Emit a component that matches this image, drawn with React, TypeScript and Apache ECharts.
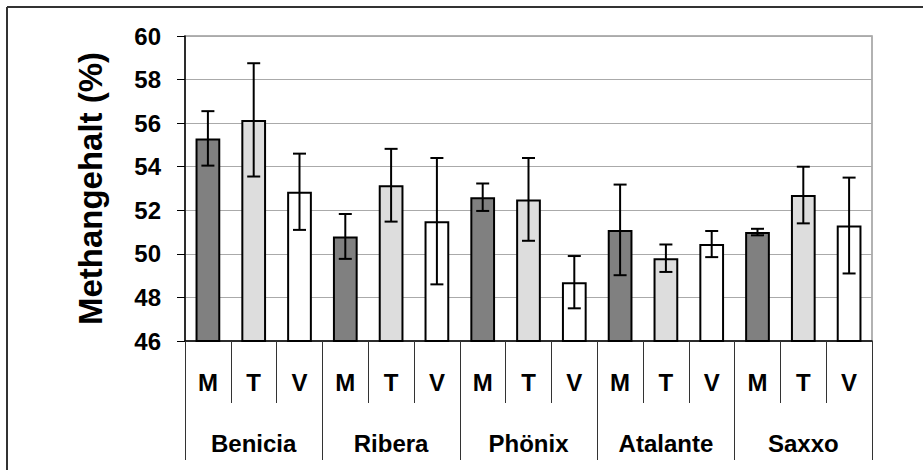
import React, { useEffect, useRef } from "react";
import * as echarts from "echarts";

const groups = ["Benicia", "Ribera", "Phönix", "Atalante", "Saxxo"];
const treatments = ["M", "T", "V"];
const meanM = [55.3, 50.8, 52.6, 51.1, 51.0];
const meanT = [56.15, 53.15, 52.5, 49.8, 52.7];
const meanV = [52.85, 51.5, 48.7, 50.45, 51.3];
const errM = [1.25, 1.03, 0.63, 2.08, 0.15];
const errT = [2.6, 1.67, 1.9, 0.63, 1.3];
const errV = [1.75, 2.9, 1.2, 0.6, 2.2];
const yTicks = { min: 46, max: 60, interval: 2 };
const colors = { M: "#808080", T: "#dddddd", V: "#ffffff" };

const FONT = "'Liberation Sans', Arial, sans-serif";

export default function App() {
  const ref = useRef<HTMLDivElement>(null);
  useEffect(() => {
    if (!ref.current) return;
    const chart = echarts.init(ref.current, null, { renderer: "svg" });
    const means = [meanM, meanT, meanV];
    const errs = [errM, errT, errV];
    const cats: string[] = [];
    const barData: any[] = [];
    const errData: any[] = [];
    groups.forEach((g, gi) => {
      treatments.forEach((t, ti) => {
        const idx = cats.length;
        cats.push(t);
        barData.push({
          value: means[ti][gi],
          itemStyle: { color: (colors as any)[t] },
        });
        errData.push([idx, means[ti][gi], errs[ti][gi]]);
      });
    });

    chart.setOption({
      animation: false,
      grid: {
        left: 185,
        right: 51,
        top: 36,
        bottom: 129,
        show: true,
        borderColor: "#999",
        borderWidth: 1.5,
        backgroundColor: "transparent",
      },
      graphic: [
        {
          type: "line",
          shape: { x1: 7, y1: 7, x2: 923, y2: 7 },
          style: { stroke: "#333", lineWidth: 2 },
        },
        {
          type: "line",
          shape: { x1: 7, y1: 7, x2: 7, y2: 470 },
          style: { stroke: "#333", lineWidth: 2 },
        },
      ],
      xAxis: [
        {
          type: "category",
          data: cats,
          position: "bottom",
          axisLine: { show: true, lineStyle: { color: "#000", width: 1.5 } },
          axisTick: { show: true, interval: 0, length: 62, lineStyle: { color: "#333", width: 1 } },
          axisLabel: {
            interval: 0,
            margin: 29,
            fontSize: 24,
            fontWeight: "bold",
            fontFamily: FONT,
            color: "#000",
          },
          splitLine: { show: false },
        },
        {
          type: "category",
          data: groups,
          position: "bottom",
          axisLine: { show: false },
          axisTick: { show: true, interval: 0, length: 119, lineStyle: { color: "#333", width: 1 } },
          axisLabel: {
            interval: 0,
            margin: 90,
            fontSize: 24,
            fontWeight: "bold",
            fontFamily: FONT,
            color: "#000",
          },
          splitLine: { show: false },
        },
      ],
      yAxis: {
        type: "value",
        min: yTicks.min,
        max: yTicks.max,
        interval: yTicks.interval,
        name: "Methangehalt (%)",
        nameLocation: "middle",
        nameGap: 78,
        nameTextStyle: {
          fontSize: 33,
          fontWeight: "bold",
          fontFamily: FONT,
          color: "#000",
        },
        axisLine: { show: true, lineStyle: { color: "#000", width: 1.5 } },
        axisTick: { show: true, length: 8, lineStyle: { color: "#000", width: 1 } },
        axisLabel: {
          margin: 24,
          fontSize: 24,
          fontWeight: "bold",
          fontFamily: FONT,
          color: "#000",
        },
        splitLine: { show: true, lineStyle: { color: "#aaa", width: 1.2 } },
      },
      series: [
        {
          type: "bar",
          data: barData,
          barWidth: "54%",
          itemStyle: { borderColor: "#000", borderWidth: 2 },
          z: 2,
        },
        {
          type: "custom",
          data: errData,
          encode: { x: 0, y: 1 },
          z: 5,
          renderItem: (params: any, api: any) => {
            const x = api.value(0);
            const y = api.value(1);
            const e = api.value(2);
            const top = api.coord([x, y + e]);
            const bot = api.coord([x, y - e]);
            const hw = 6.5;
            const style = { stroke: "#000", lineWidth: 2 };
            return {
              type: "group",
              children: [
                { type: "line", shape: { x1: top[0], y1: top[1], x2: bot[0], y2: bot[1] }, style },
                { type: "line", shape: { x1: top[0] - hw, y1: top[1], x2: top[0] + hw, y2: top[1] }, style },
                { type: "line", shape: { x1: bot[0] - hw, y1: bot[1], x2: bot[0] + hw, y2: bot[1] }, style },
              ],
            };
          },
        },
      ],
    });
    return () => chart.dispose();
  }, []);
  return (
    <div
      ref={ref}
      style={{ position: "fixed", left: 0, top: 0, width: 923, height: 470, background: "#fff" }}
    />
  );
}
